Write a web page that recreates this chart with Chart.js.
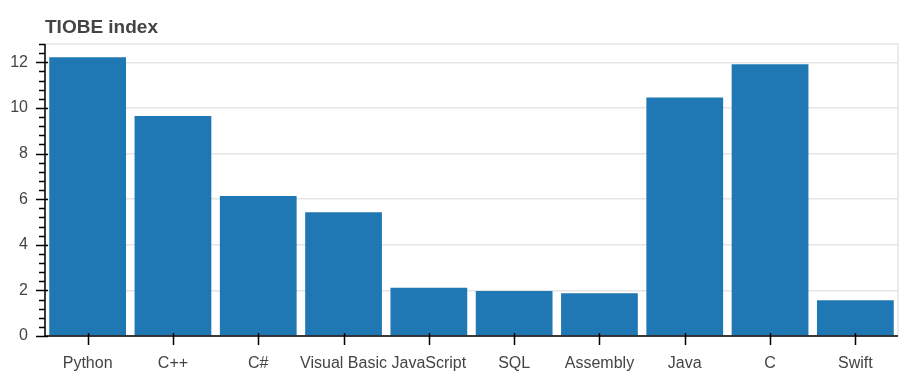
<!DOCTYPE html>
<html>
<head>
<meta charset="utf-8">
<script src="https://cdn.jsdelivr.net/npm/chart.js@4/dist/chart.umd.min.js"></script>
<style>
  html, body { margin: 0; padding: 0; background: #ffffff; }
  #wrap { width: 911px; height: 386px; position: relative; }
</style>
</head>
<body>
<div id="wrap"><canvas id="c" width="911" height="386"></canvas></div>
<script>
const categories = ["Python", "C++", "C#", "Visual Basic", "JavaScript", "SQL", "Assembly", "Java", "C", "Swift"];
const tiobeValues = [12.22, 9.64, 6.14, 5.42, 2.12, 1.97, 1.87, 10.46, 11.91, 1.57];
const yMajorTicks = [0, 2, 4, 6, 8, 10, 12];
const titleText = "TIOBE index";

const Y_MAX = 12.8;
const MINOR_STEP = 0.4;
const FONT = "'Liberation Sans', Arial, Helvetica, sans-serif";

const bokehPlugin = {
  id: 'bokehPlugin',
  beforeDatasetsDraw(chart) {
    const ctx = chart.ctx, a = chart.chartArea;
    ctx.save();
    ctx.strokeStyle = '#e5e5e5';
    ctx.lineWidth = 1.5;
    ctx.strokeRect(a.left, a.top, a.right - a.left, a.bottom - a.top);
    ctx.restore();
  },
  afterDatasetsDraw(chart) {
    const ctx = chart.ctx, a = chart.chartArea;
    const ys = chart.scales.y, xs = chart.scales.x;
    ctx.save();
    ctx.strokeStyle = '#000000';
    ctx.lineWidth = 1.5;
    ctx.beginPath();
    // axis lines
    ctx.moveTo(a.left, a.top);
    ctx.lineTo(a.left, a.bottom);
    ctx.moveTo(a.left, a.bottom);
    ctx.lineTo(a.right, a.bottom);
    // y minor ticks
    const nMinor = Math.round(Y_MAX / MINOR_STEP);
    for (let i = 0; i <= nMinor; i++) {
      const v = i * MINOR_STEP;
      const py = Math.round(ys.getPixelForValue(v)) + 0.5;
      ctx.moveTo(a.left - 6, py);
      ctx.lineTo(a.left, py);
    }
    // y major ticks
    yMajorTicks.forEach(v => {
      const py = Math.round(ys.getPixelForValue(v)) + 0.5;
      ctx.moveTo(a.left - 9, py);
      ctx.lineTo(a.left + 3, py);
    });
    // x ticks
    categories.forEach((c, i) => {
      const px = Math.round(xs.getPixelForValue(i)) + 0.5;
      ctx.moveTo(px, a.bottom - 3);
      ctx.lineTo(px, a.bottom + 9);
    });
    ctx.stroke();
    ctx.restore();
  },
  afterDraw(chart) {
    const ctx = chart.ctx, a = chart.chartArea;
    ctx.save();
    ctx.fillStyle = '#444444';
    ctx.font = "bold 19px " + FONT;
    ctx.textAlign = 'left';
    ctx.textBaseline = 'alphabetic';
    ctx.fillText(titleText, a.left, 33);
    ctx.restore();
  }
};

new Chart(document.getElementById('c'), {
  type: 'bar',
  data: {
    labels: categories,
    datasets: [{
      label: 'TIOBE index',
      data: tiobeValues,
      backgroundColor: '#1f77b4',
      borderColor: '#1f77b4',
      borderWidth: 0,
      barPercentage: 0.9,
      categoryPercentage: 1.0
    }]
  },
  options: {
    responsive: false,
    animation: false,
    devicePixelRatio: 1,
    layout: { padding: { top: 44, right: 13, bottom: 0, left: 0 } },
    plugins: {
      legend: { display: false },
      title: { display: false },
      tooltip: { enabled: false }
    },
    scales: {
      x: {
        type: 'category',
        offset: true,
        grid: { display: false, drawTicks: false },
        border: { display: false },
        ticks: {
          autoSkip: false,
          maxRotation: 0,
          minRotation: 0,
          padding: 18,
          color: '#444444',
          font: { family: FONT, size: 16 }
        },
        afterFit(scale) { scale.height = 50; }
      },
      y: {
        min: 0,
        max: Y_MAX,
        grid: { color: '#e5e5e5', lineWidth: 1.5, drawTicks: false },
        border: { display: false },
        ticks: {
          stepSize: 2,
          includeBounds: false,
          padding: 17,
          color: '#444444',
          font: { family: FONT, size: 16 }
        },
        afterFit(scale) { scale.width = 45; }
      }
    }
  },
  plugins: [bokehPlugin]
});
</script>
</body>
</html>
